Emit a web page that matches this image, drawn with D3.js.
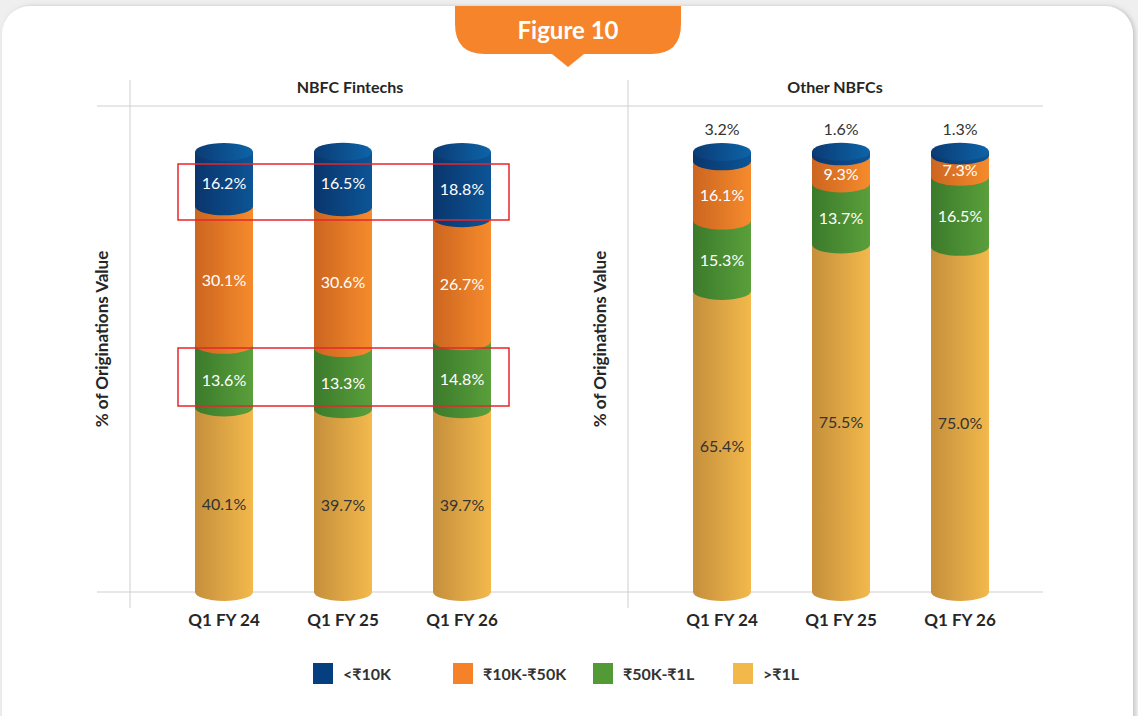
<!DOCTYPE html>
<html>
<head>
<meta charset="utf-8">
<script src="https://cdn.jsdelivr.net/npm/d3@7"></script>
<style>
  body { margin: 0; background: #efefef; }
  svg { display: block; font-family: Lato, "Noto Sans", sans-serif; }
</style>
</head>
<body>
<div id="chart"></div>
<script>
// ---- data ----
var panels = ["NBFC Fintechs", "Other NBFCs"];
var quarters = ["Q1 FY 24", "Q1 FY 25", "Q1 FY 26"];
var buckets = ["<₹10K", "₹10K-₹50K", "₹50K-₹1L", ">₹1L"];   // legend order (top of stack first)

var fintechUnder10K = [16.2, 16.5, 18.8];
var fintech10Kto50K = [30.1, 30.6, 26.7];
var fintech50Kto1L  = [13.6, 13.3, 14.8];
var fintechOver1L   = [40.1, 39.7, 39.7];

var otherUnder10K = [3.2, 1.6, 1.3];
var other10Kto50K = [16.1, 9.3, 7.3];
var other50Kto1L  = [15.3, 13.7, 16.5];
var otherOver1L   = [65.4, 75.5, 75.0];

var yAxisTitle = "% of Originations Value";
var figureTitle = "Figure 10";

// ---- build rows for d3.stack ----
function rows(under10, k10to50, k50to1L, over1L) {
    return quarters.map(function (q, i) {
        var r = { quarter: q };
        r[buckets[0]] = under10[i];
        r[buckets[1]] = k10to50[i];
        r[buckets[2]] = k50to1L[i];
        r[buckets[3]] = over1L[i];
        return r;
    });
}
var panelRows = [
    rows(fintechUnder10K, fintech10Kto50K, fintech50Kto1L, fintechOver1L),
    rows(otherUnder10K, other10Kto50K, other50Kto1L, otherOver1L)
];

var W = 1138, H = 716;
var svg = d3.select("#chart").append("svg")
    .attr("width", W)
    .attr("height", H);

// colours: [dark left, light right]
var colors = {
    "<₹10K":     ["#0a356c", "#0c5596"],
    "₹10K-₹50K": ["#cc6520", "#f68b2c"],
    "₹50K-₹1L":  ["#3b7a2b", "#5a9f3b"],
    ">₹1L":      ["#c58f3c", "#f3b94c"]
};
var legendColors = { "<₹10K": "#053f7f", "₹10K-₹50K": "#f58229", "₹50K-₹1L": "#529a35", ">₹1L": "#f2b84a" };

var defs = svg.append("defs");
buckets.forEach(function (b, i) {
    var g = defs.append("linearGradient").attr("id", "grad" + i)
        .attr("x1", "0%").attr("x2", "100%").attr("y1", "0%").attr("y2", "0%");
    g.append("stop").attr("offset", "0%").attr("stop-color", colors[b][0]);
    g.append("stop").attr("offset", "100%").attr("stop-color", colors[b][1]);
});
var cap = defs.append("linearGradient").attr("id", "capGrad")
    .attr("x1", "0%").attr("x2", "100%").attr("y1", "0%").attr("y2", "0%");
cap.append("stop").attr("offset", "0%").attr("stop-color", "#0b3b74");
cap.append("stop").attr("offset", "100%").attr("stop-color", "#0d64a8");

var shadow = defs.append("filter").attr("id", "shadow")
    .attr("x", "-5%").attr("y", "-5%").attr("width", "110%").attr("height", "110%");
shadow.append("feDropShadow").attr("dx", 2).attr("dy", 0).attr("stdDeviation", 2)
    .attr("flood-color", "#999").attr("flood-opacity", 0.5);

// card background
svg.append("rect")
    .attr("x", 2).attr("y", 6)
    .attr("width", 1131).attr("height", 800)
    .attr("rx", 28)
    .attr("fill", "#fff")
    .attr("filter", "url(#shadow)");

// figure tab
svg.append("path")
    .attr("d", "M455,6 L681,6 L681,24 Q681,54 651,54 L584,54 L568,67 L552,54 L485,54 Q455,54 455,24 Z")
    .attr("fill", "#f5842b");
svg.append("text")
    .attr("x", 568).attr("y", 39)
    .attr("text-anchor", "middle")
    .attr("font-size", "24px").attr("font-weight", "bold")
    .attr("fill", "#fff")
    .text(figureTitle);

// ---- scales ----
// the source is a 3D cylinder chart; its perspective squeezes the top of the stack
var y = d3.scaleLinear().domain([0, 88, 100]).range([592, 187, 152]);
var panelX = d3.scaleBand().domain(panels).range([130, 1126]);
var x = d3.scaleBand().domain(quarters).range([4, 422]).padding(0.5126);
var rx = x.bandwidth() / 2, ry = 9;

// grid frame
var grid = svg.append("g").attr("stroke", "#cfcfcf").attr("stroke-width", 1);
[106, y(0)].forEach(function (gy) {
    grid.append("line").attr("x1", 97).attr("x2", 1043).attr("y1", gy).attr("y2", gy);
});
panels.forEach(function (p) {
    grid.append("line").attr("x1", panelX(p)).attr("x2", panelX(p)).attr("y1", 80).attr("y2", 608);
});

var titleX = [350, 835];

var stack = d3.stack().keys(buckets.slice().reverse());

panels.forEach(function (p, pi) {
    var g = svg.append("g").attr("transform", "translate(" + panelX(p) + ",0)");

    svg.append("text")
        .attr("x", titleX[pi]).attr("y", 93)
        .attr("text-anchor", "middle")
        .attr("font-size", "16px").attr("font-weight", "bold")
        .attr("fill", "#262626")
        .text(p);

    svg.append("text")
        .attr("transform", "translate(" + (panelX(p) - 22) + ",339) rotate(-90)")
        .attr("text-anchor", "middle")
        .attr("font-size", "17px").attr("font-weight", "bold")
        .attr("fill", "#262626")
        .text(yAxisTitle);

    // x labels
    g.selectAll(".xl").data(quarters).enter().append("text")
        .attr("x", function (q) { return x(q) + rx; })
        .attr("y", 626)
        .attr("text-anchor", "middle")
        .attr("font-size", "17px").attr("font-weight", "bold")
        .attr("fill", "#262626")
        .text(function (q) { return q; });

    var series = stack(panelRows[pi]);

    // cylinders, bottom layer first so each segment's lower rim overlaps the one below
    series.forEach(function (s) {
        var gi = buckets.indexOf(s.key);
        g.selectAll(null).data(s).enter().append("path")
            .attr("fill", "url(#grad" + gi + ")")
            .attr("d", function (d) {
                var cx = x(d.data.quarter) + rx;
                var yt = y(d[1]), yb = y(d[0]);
                return "M" + (cx - rx) + "," + yt + " L" + (cx - rx) + "," + yb +
                    " A" + rx + "," + ry + " 0 0 0 " + (cx + rx) + "," + yb +
                    " L" + (cx + rx) + "," + yt + " Z";
            });
    });

    // top caps
    var top = series[series.length - 1];
    g.selectAll(null).data(top).enter().append("ellipse")
        .attr("cx", function (d) { return x(d.data.quarter) + rx; })
        .attr("cy", function (d) { return y(d[1]); })
        .attr("rx", rx).attr("ry", ry)
        .attr("fill", "url(#capGrad)");

    // value labels
    series.forEach(function (s) {
        g.selectAll(null).data(s).enter().append("text")
            .attr("x", function (d) { return x(d.data.quarter) + rx; })
            .attr("y", function (d) {
                var v = d[1] - d[0];
                if (v < 5) return y(d[1]) - ry - 8;
                return (y(d[1]) + y(d[0])) / 2 + 10;
            })
            .attr("text-anchor", "middle")
            .attr("font-size", "16px")
            .attr("fill", function (d) {
                var v = d[1] - d[0];
                return (v < 5 || s.key === ">₹1L") ? "#333" : "#fff";
            })
            .text(function (d) { return (d[1] - d[0]).toFixed(1) + "%"; });
    });
});

// red highlight boxes on the Fintech panel (rows <₹10K and ₹50K-₹1L)
var fx = panelX(panels[0]);
var boxLeft = fx + x(quarters[0]) + rx - 46;
var boxRight = fx + x(quarters[2]) + rx + 47;
[[164, 220], [348, 406]].forEach(function (b) {
    svg.append("rect")
        .attr("x", boxLeft).attr("y", b[0])
        .attr("width", boxRight - boxLeft).attr("height", b[1] - b[0])
        .attr("fill", "none")
        .attr("stroke", "#e8262d")
        .attr("stroke-width", 1.5);
});

// legend
var legendX = d3.scalePoint().domain(buckets).range([313, 733]);
var legend = svg.append("g");
legend.selectAll("rect").data(buckets).enter().append("rect")
    .attr("x", function (b) { return legendX(b); })
    .attr("y", 663)
    .attr("width", 20).attr("height", 21)
    .attr("fill", function (b) { return legendColors[b]; });
legend.selectAll("text").data(buckets).enter().append("text")
    .attr("x", function (b) { return legendX(b) + 30; })
    .attr("y", 680)
    .attr("font-size", "16px").attr("font-weight", "bold")
    .attr("fill", "#333")
    .text(function (b) { return b; });
</script>
</body>
</html>
